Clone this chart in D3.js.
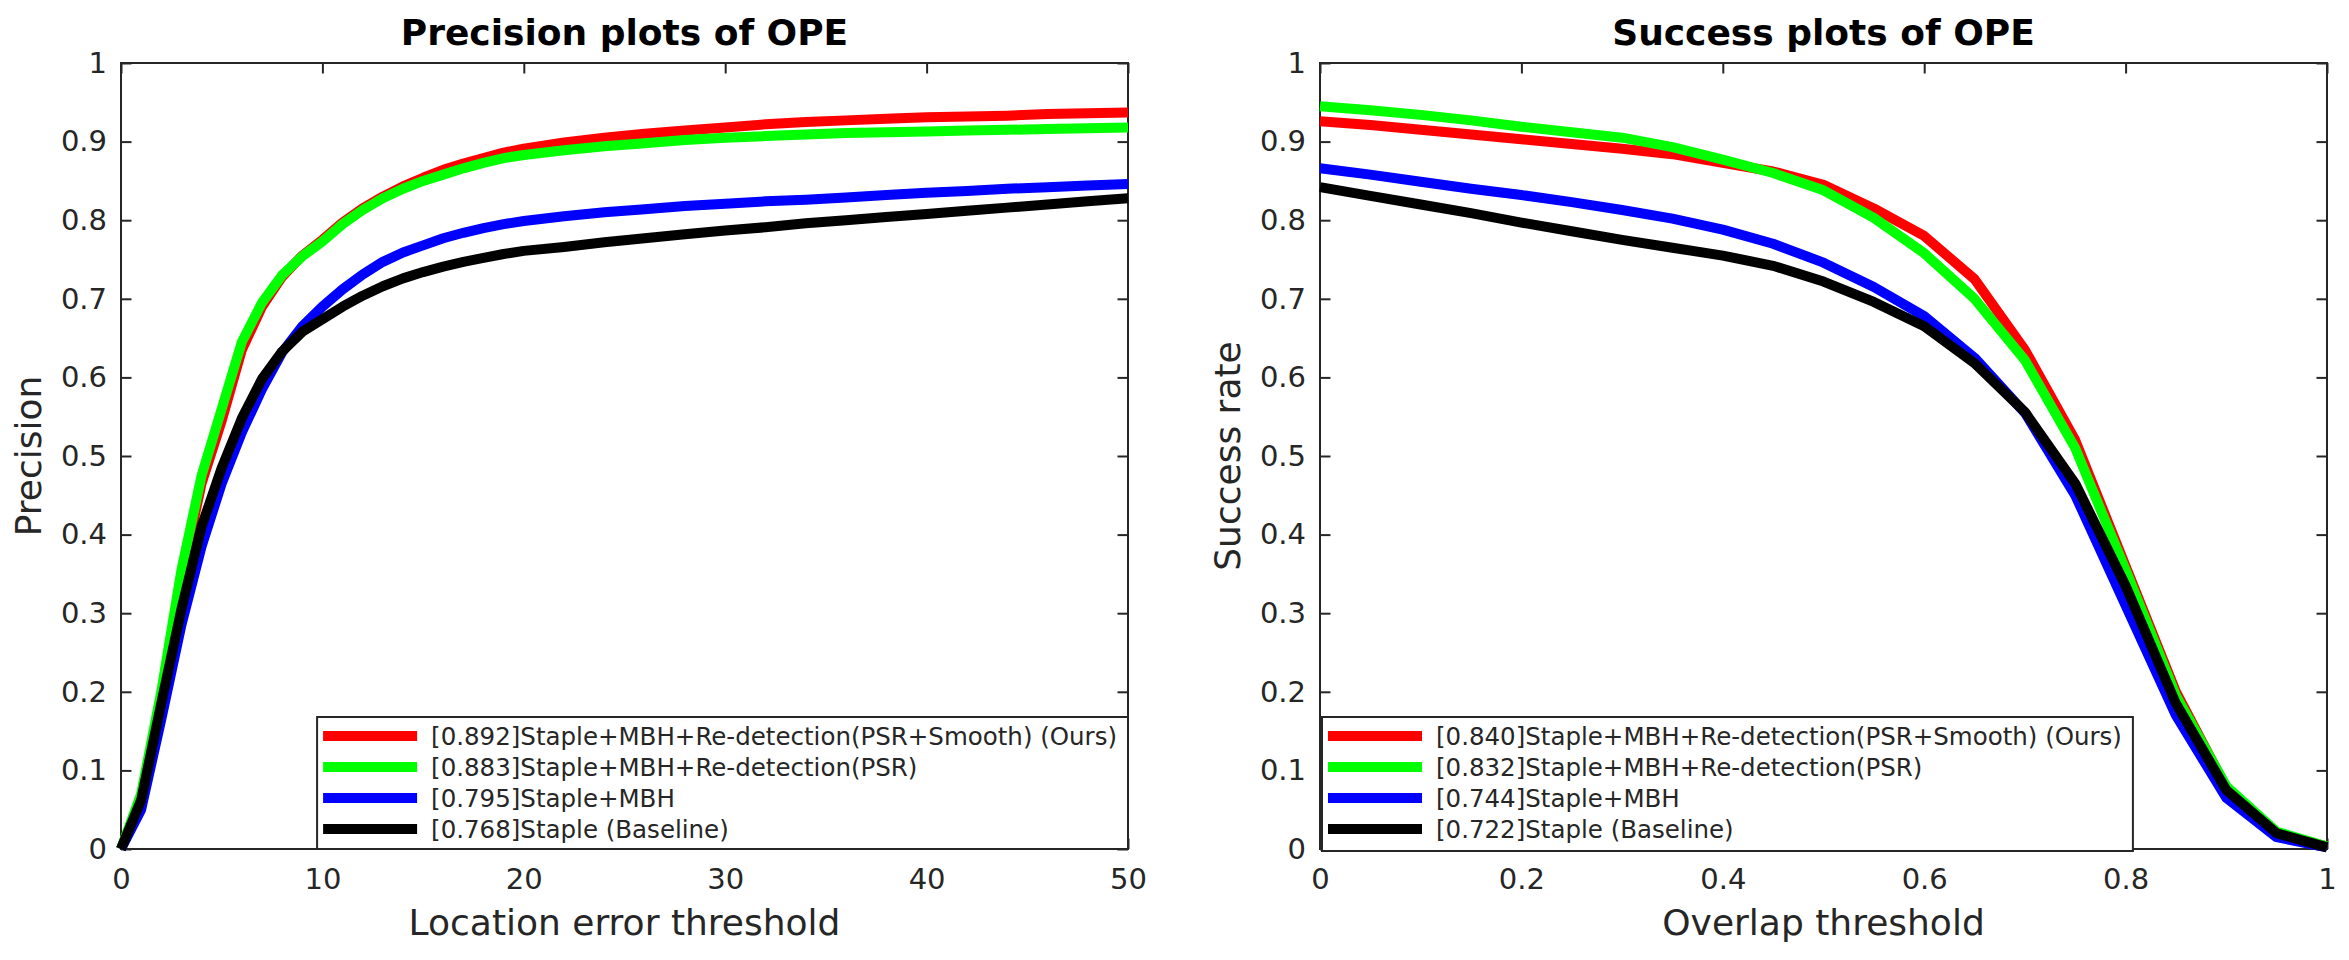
<!DOCTYPE html>
<html>
<head>
<meta charset="utf-8">
<script src="https://cdn.jsdelivr.net/npm/d3@7/dist/d3.min.js"></script>
<style>
  body { margin: 0; background: #fff; }
  text { font-family: "DejaVu Sans", sans-serif; fill: #262626; }
</style>
</head>
<body>
<div id="chart"></div>
<script>
// ---- data ----
// precision plot: location error threshold (pixels)
var precThresholds = [0,1,2,3,4,5,6,7,8,9,10,11,12,13,14,15,16,17,18,19,20,
                      22,24,26,28,30,32,34,36,38,40,42,44,46,48,50];
var precOurs   = [0.0,0.065,0.195,0.345,0.465,0.545,0.635,0.69,0.728,0.755,0.775,0.797,0.815,0.83,0.843,0.854,0.864,0.872,0.879,0.886,0.891,
                  0.899,0.905,0.91,0.914,0.918,0.922,0.925,0.927,0.929,0.931,0.932,0.933,0.935,0.936,0.937];
var precPSR    = [0.0,0.07,0.2,0.355,0.475,0.56,0.645,0.695,0.73,0.754,0.773,0.795,0.813,0.828,0.84,0.85,0.858,0.866,0.873,0.879,0.883,
                  0.889,0.894,0.898,0.902,0.905,0.907,0.909,0.911,0.912,0.913,0.914,0.915,0.916,0.917,0.918];
var precMBH    = [0.0,0.05,0.165,0.285,0.385,0.465,0.53,0.585,0.632,0.665,0.69,0.712,0.731,0.747,0.759,0.768,0.777,0.784,0.79,0.795,0.799,
                  0.805,0.81,0.814,0.818,0.821,0.824,0.826,0.829,0.832,0.835,0.837,0.84,0.842,0.844,0.846];
var precStaple = [0.0,0.062,0.185,0.305,0.41,0.485,0.548,0.598,0.633,0.658,0.674,0.69,0.704,0.716,0.726,0.734,0.741,0.747,0.752,0.757,0.761,
                  0.766,0.772,0.777,0.782,0.787,0.791,0.796,0.8,0.804,0.808,0.812,0.816,0.82,0.824,0.828];

// success plot: overlap threshold
var succThresholds = [0,0.05,0.1,0.15,0.2,0.25,0.3,0.35,0.4,0.45,0.5,0.55,0.6,0.65,0.7,0.75,0.8,0.85,0.9,0.95,1];
var succOurs   = [0.926,0.921,0.915,0.909,0.903,0.897,0.891,0.884,0.873,0.862,0.845,0.815,0.78,0.725,0.635,0.52,0.36,0.2,0.078,0.02,0.003];
var succPSR    = [0.945,0.94,0.934,0.927,0.919,0.912,0.905,0.893,0.877,0.86,0.838,0.803,0.758,0.7,0.622,0.51,0.355,0.195,0.08,0.022,0.003];
var succMBH    = [0.866,0.858,0.849,0.84,0.832,0.823,0.813,0.802,0.788,0.77,0.746,0.715,0.678,0.625,0.555,0.45,0.31,0.17,0.065,0.015,0.002];
var succStaple = [0.842,0.831,0.82,0.809,0.797,0.786,0.775,0.765,0.755,0.742,0.722,0.696,0.665,0.618,0.556,0.465,0.335,0.185,0.075,0.02,0.002];

var colors = ["#ff0000", "#00ff00", "#0000ff", "#000000"];
var precLabels = ["[0.892]Staple+MBH+Re-detection(PSR+Smooth) (Ours)",
                  "[0.883]Staple+MBH+Re-detection(PSR)",
                  "[0.795]Staple+MBH",
                  "[0.768]Staple (Baseline)"];
var succLabels = ["[0.840]Staple+MBH+Re-detection(PSR+Smooth) (Ours)",
                  "[0.832]Staple+MBH+Re-detection(PSR)",
                  "[0.744]Staple+MBH",
                  "[0.722]Staple (Baseline)"];
var yTicks = [0,0.1,0.2,0.3,0.4,0.5,0.6,0.7,0.8,0.9,1];
var precXTicks = [0,10,20,30,40,50];
var succXTicks = [0,0.2,0.4,0.6,0.8,1];

// ---- layout ----
var width = 2349, height = 960;
var plotTop = 63, plotBottom = 849;

var svg = d3.select("#chart").append("svg")
    .attr("width", width)
    .attr("height", height);

function drawPanel(p) {
  var x = d3.scaleLinear().domain(p.xDomain).range([p.left, p.right]);
  var y = d3.scaleLinear().domain([0, 1]).range([plotBottom, plotTop]);
  var g = svg.append("g");

  // box
  g.append("rect")
    .attr("x", p.left).attr("y", plotTop)
    .attr("width", p.right - p.left).attr("height", plotBottom - plotTop)
    .attr("fill", "none").attr("stroke", "#262626").attr("stroke-width", 2);

  var fmt = function(d) { return d3.format("~g")(d); };

  var ax = [
    d3.axisBottom(x).tickValues(p.xTicks).tickFormat(fmt),
    d3.axisTop(x).tickValues(p.xTicks).tickFormat(""),
    d3.axisLeft(y).tickValues(yTicks).tickFormat(fmt),
    d3.axisRight(y).tickValues(yTicks).tickFormat("")
  ];
  var pos = ["translate(0," + plotBottom + ")", "translate(0," + plotTop + ")",
             "translate(" + p.left + ",0)", "translate(" + p.right + ",0)"];
  ax.forEach(function(a, i) {
    a.tickSizeInner(-10.5).tickSizeOuter(0).tickPadding(i == 0 ? 19 : 14);
    var s = g.append("g").attr("transform", pos[i]).call(a);
    s.select(".domain").remove();
    s.selectAll("line").attr("stroke", "#262626").attr("stroke-width", 2);
    s.selectAll("text").attr("font-size", 29).attr("fill", "#262626")
      .style("font-family", '"DejaVu Sans", sans-serif');
  });

  // title and axis labels
  var cx = (p.left + p.right) / 2;
  g.append("text").attr("x", cx).attr("y", 45)
    .attr("text-anchor", "middle").attr("font-size", 36).attr("font-weight", "bold")
    .style("fill", "#000").text(p.title);
  g.append("text").attr("x", cx).attr("y", 935)
    .attr("text-anchor", "middle").attr("font-size", 36).text(p.xLabel);
  g.append("text")
    .attr("transform", "translate(" + (p.left - 80) + "," + ((plotTop + plotBottom) / 2) + ") rotate(-90)")
    .attr("text-anchor", "middle").attr("font-size", 36).text(p.yLabel);

  // curves, drawn in legend order so the baseline ends on top
  var line = d3.line()
    .x(function(d) { return x(d[0]); })
    .y(function(d) { return y(d[1]); });
  p.series.forEach(function(vals, i) {
    g.append("path")
      .datum(p.xs.map(function(t, j) { return [t, vals[j]]; }))
      .attr("d", line)
      .attr("fill", "none")
      .attr("stroke", colors[i])
      .attr("stroke-width", 10)
      .attr("stroke-linejoin", "round");
  });

  // legend
  var leg = g.append("g");
  var box = leg.append("rect").attr("fill", "#fff").attr("stroke", "#262626").attr("stroke-width", 2);
  var texts = [];
  p.labels.forEach(function(lab, i) {
    var ry = 19 + i * 31;
    leg.append("line").attr("x1", 6).attr("x2", 100).attr("y1", ry).attr("y2", ry)
      .attr("stroke", colors[i]).attr("stroke-width", 10);
    texts.push(leg.append("text").attr("x", 114).attr("y", ry).attr("dy", "0.36em")
      .attr("font-size", 24.5).text(lab));
  });
  var tw = d3.max(texts, function(t) { return t.node().getComputedTextLength(); });
  var bw = 114 + tw + 11, bh = 132 + p.legendDrop;
  box.attr("x", 0).attr("y", 0).attr("width", bw).attr("height", bh);
  var lx = p.legendSide == "right" ? p.right - bw : p.left + 2;
  leg.attr("transform", "translate(" + lx + "," + (plotBottom + p.legendDrop - bh) + ")");
}

drawPanel({
  left: 121, right: 1128, xDomain: [0, 50], xTicks: precXTicks,
  xs: precThresholds, series: [precOurs, precPSR, precMBH, precStaple],
  labels: precLabels, legendSide: "right", legendDrop: 0,
  title: "Precision plots of OPE", xLabel: "Location error threshold", yLabel: "Precision"
});

drawPanel({
  left: 1320, right: 2327, xDomain: [0, 1], xTicks: succXTicks,
  xs: succThresholds, series: [succOurs, succPSR, succMBH, succStaple],
  labels: succLabels, legendSide: "left", legendDrop: 2,
  title: "Success plots of OPE", xLabel: "Overlap threshold", yLabel: "Success rate"
});
</script>
</body>
</html>
